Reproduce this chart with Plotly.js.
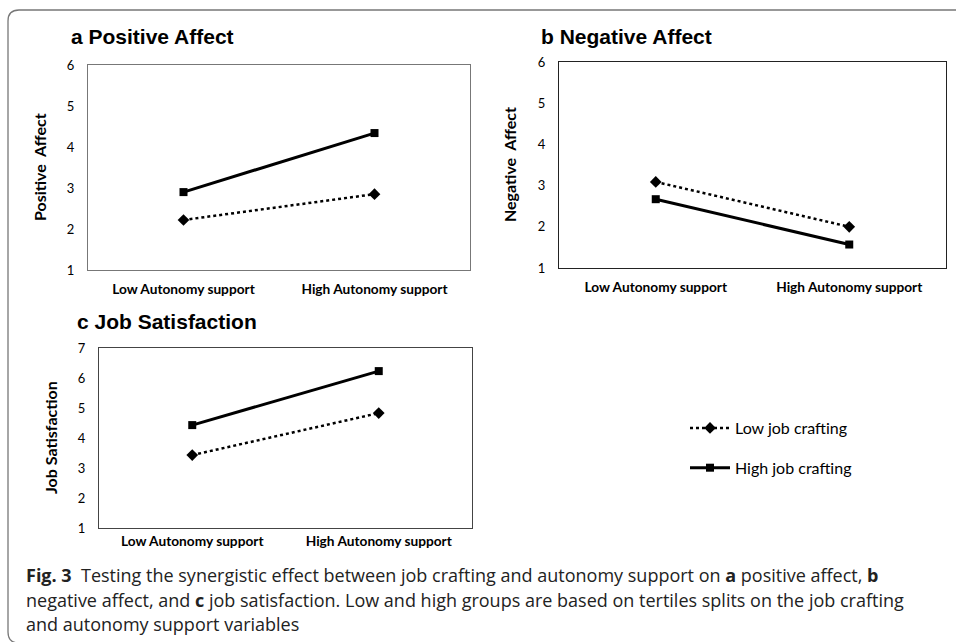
<!DOCTYPE html>
<html>
<head>
<meta charset="utf-8">
<script src="https://cdn.plot.ly/plotly-3.0.1.min.js"></script>
<style>html,body{margin:0;padding:0;background:#fff;}#chart{width:956px;height:642px;}</style>
</head>
<body>
<div id="chart"></div>
<script>
// ---- data ----
const categories = ['Low Autonomy support', 'High Autonomy support'];
const seriesNames = ['Low job crafting', 'High job crafting'];
const positiveLow = [2.22, 2.85];
const positiveHigh = [2.90, 4.34];
const negativeLow = [3.09, 2.00];
const negativeHigh = [2.67, 1.57];
const jobSatLow = [3.43, 4.83];
const jobSatHigh = [4.43, 6.23];
const yTicksAB = [1, 2, 3, 4, 5, 6];
const yTicksC = [1, 2, 3, 4, 5, 6, 7];
const panelTitles = ['a Positive Affect', 'b Negative Affect', 'c Job Satisfaction'];
const yTitles = ['Positive\u00a0\u00a0Affect', 'Negative\u00a0\u00a0Affect', 'Job Satisfaction'];
const captionLines = [
  '<b>Fig. 3</b>\u00a0\u00a0Testing the synergistic effect between job crafting and autonomy support on <b>a</b> positive affect, <b>b</b>',
  'negative affect, and <b>c</b> job satisfaction. Low and high groups are based on tertiles splits on the job crafting',
  'and autonomy support variables'
];

// ---- styles ----
const W = 956, H = 642;
const px = v => v / W;
const py = v => 1 - v / H;
const lowStyle = {line: {color: '#000', width: 2.5, dash: 'dot'}, marker: {symbol: 'diamond', size: 9, color: '#000'}};
const highStyle = {line: {color: '#000', width: 3}, marker: {symbol: 'square', size: 8, color: '#000'}};

function mk(y, xa, ya, style, name, show, group) {
  return {x: categories, y: y, xaxis: xa, yaxis: ya, type: 'scatter', mode: 'lines+markers',
    name: name, showlegend: show, legendgroup: group, line: style.line, marker: style.marker, hoverinfo: 'skip'};
}
const traces = [
  mk(positiveLow, 'x', 'y', lowStyle, seriesNames[0], true, 'g1'),
  mk(positiveHigh, 'x', 'y', highStyle, seriesNames[1], true, 'g2'),
  mk(negativeLow, 'x2', 'y2', lowStyle, seriesNames[0], false, 'g1'),
  mk(negativeHigh, 'x2', 'y2', highStyle, seriesNames[1], false, 'g2'),
  mk(jobSatLow, 'x3', 'y3', lowStyle, seriesNames[0], false, 'g1'),
  mk(jobSatHigh, 'x3', 'y3', highStyle, seriesNames[1], false, 'g2')
];

const sans = 'Lato, "Open Sans", sans-serif';
const tickFontX = {family: sans, size: 13.7, color: '#000', weight: 'bold'};
const tickFontY = {family: sans, size: 13, color: '#000'};
function xax(dom, anchor, standoff, col) {
  return {domain: dom, anchor: anchor, type: 'category', categoryorder: 'array', categoryarray: categories,
    range: [-0.5, 1.5], showline: true, mirror: true, linecolor: col, linewidth: 1.2, showgrid: false,
    zeroline: false, ticks: '', tickfont: tickFontX, ticklabelstandoff: standoff, fixedrange: true};
}
function yax(dom, anchor, rng, tv, col) {
  return {domain: dom, anchor: anchor, range: rng, tickvals: tv, showline: true, mirror: true, linecolor: col,
    linewidth: 1.2, showgrid: false, zeroline: false, ticks: '', tickfont: tickFontY, ticklabelstandoff: 10, fixedrange: true};
}
function ann(text, x, y, font, opts) {
  return Object.assign({text: text, x: px(x), y: py(y), xref: 'paper', yref: 'paper', showarrow: false, font: font}, opts);
}
const titleFont = {family: '"Liberation Sans", Arial, sans-serif', size: 21, color: '#000'};
const yTitleFont = {family: sans, size: 16, color: '#000'};
const capFont = {family: '"Open Sans", Lato, sans-serif', size: 18, color: '#222'};
const leftMid = {xanchor: 'left', yanchor: 'middle'};
const rot = {textangle: -90, xanchor: 'center', yanchor: 'middle'};

const layout = {
  width: W, height: H, margin: {l: 0, r: 0, t: 0, b: 0}, paper_bgcolor: '#fff', plot_bgcolor: '#fff',
  xaxis: xax([px(88), px(470)], 'y', 6, '#777'),
  yaxis: yax([py(270), py(65)], 'x', [1, 6], yTicksAB, '#777'),
  xaxis2: xax([px(559), px(946)], 'y2', 6, '#222'),
  yaxis2: yax([py(268), py(62)], 'x2', [1, 6], yTicksAB, '#222'),
  xaxis3: xax([px(99), px(472)], 'y3', 0, '#444'),
  yaxis3: yax([py(528), py(348)], 'x3', [1, 7], yTicksC, '#444'),
  showlegend: true,
  legend: {x: px(685), y: py(411), xanchor: 'left', yanchor: 'top', tracegroupgap: 16, bgcolor: 'rgba(0,0,0,0)',
    font: {family: sans, size: 16, color: '#000'}, itemwidth: 40},
  shapes: [{type: 'path', xref: 'paper', yref: 'paper',
    path: `M 1.01,${py(10)} L ${px(19)},${py(10)} Q ${px(8)},${py(10)} ${px(8)},${py(21)} L ${px(8)},${py(632)} Q ${px(8)},${py(643)} ${px(19)},${py(643)} L 1.01,${py(643)}`,
    line: {color: '#777', width: 1.3}}],
  annotations: [
    ann('<b>' + panelTitles[0] + '</b>', 69, 37, titleFont, leftMid),
    ann('<b>' + panelTitles[1] + '</b>', 539, 37, titleFont, leftMid),
    ann('<b>' + panelTitles[2] + '</b>', 75, 322, titleFont, leftMid),
    ann('<b>' + yTitles[0] + '</b>', 40, 167, yTitleFont, rot),
    ann('<b>' + yTitles[1] + '</b>', 510, 165, yTitleFont, rot),
    ann('<b>' + yTitles[2] + '</b>', 50, 438, yTitleFont, rot),
    ann(captionLines[0], 24, 575, capFont, leftMid),
    ann(captionLines[1], 24, 600, capFont, leftMid),
    ann(captionLines[2], 24, 624, capFont, leftMid)
  ]
};

Plotly.newPlot('chart', traces, layout, {staticPlot: true, displayModeBar: false});
</script>
</body>
</html>
